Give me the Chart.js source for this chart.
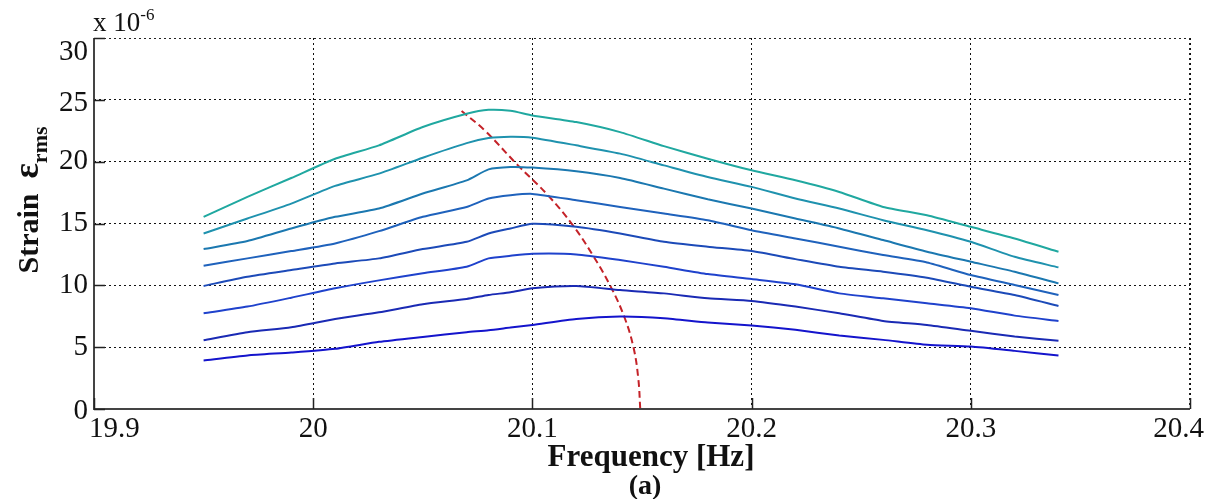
<!DOCTYPE html>
<html>
<head>
<meta charset="utf-8">
<script src="https://cdn.jsdelivr.net/npm/chart.js@4/dist/chart.umd.min.js"></script>
<style>
  html, body { margin: 0; padding: 0; background: #fff; }
  #wrap { width: 1218px; height: 499px; }
</style>
</head>
<body>
<div id="wrap"><canvas id="chartId" width="1218" height="499"></canvas></div>
<script>
// strain vs frequency sweeps, x 10^-6

const freq = [19.95, 19.97, 19.99, 20.01, 20.03, 20.05, 20.07, 20.08, 20.09, 20.10, 20.12,
              20.14, 20.16, 20.18, 20.20, 20.22, 20.24, 20.26, 20.28, 20.30, 20.32, 20.34];

const strain1 = [3.92, 4.33, 4.57, 4.87, 5.43, 5.83, 6.21, 6.37, 6.59, 6.80, 7.28, 7.47, 7.34, 6.99, 6.75, 6.40, 5.94, 5.59, 5.19, 5.05, 4.70, 4.33];
const strain2 = [5.56, 6.21, 6.61, 7.28, 7.82, 8.47, 8.90, 9.22, 9.44, 9.76, 9.95, 9.62, 9.35, 8.95, 8.74, 8.28, 7.74, 7.12, 6.80, 6.32, 5.86, 5.51];
const strain3 = [7.74, 8.28, 9.00, 9.76, 10.40, 10.97, 11.50, 12.18, 12.39, 12.55, 12.50, 12.04, 11.50, 10.91, 10.51, 10.08, 9.35, 8.95, 8.55, 8.15, 7.55, 7.12];
const strain4 = [9.95, 10.70, 11.24, 11.77, 12.18, 12.93, 13.52, 14.19, 14.60, 14.97, 14.73, 14.19, 13.52, 13.12, 12.77, 12.12, 11.50, 11.10, 10.62, 9.89, 9.22, 8.33];
const strain5 = [11.59, 12.18, 12.77, 13.39, 14.38, 15.54, 16.34, 17.02, 17.28, 17.39, 16.88, 16.34, 15.81, 15.27, 14.46, 13.79, 13.12, 12.45, 11.85, 10.83, 10.03, 9.22];
const strain6 = [12.93, 13.58, 14.60, 15.54, 16.21, 17.42, 18.49, 19.38, 19.57, 19.52, 19.22, 18.68, 17.82, 16.96, 16.21, 15.40, 14.60, 13.66, 12.72, 11.91, 11.10, 10.16];
const strain7 = [14.19, 15.40, 16.61, 18.04, 19.03, 20.32, 21.50, 21.91, 22.02, 21.94, 21.32, 20.65, 19.70, 18.76, 17.96, 17.02, 16.21, 15.27, 14.46, 13.52, 12.31, 11.45];
const strain8 = [15.54, 17.15, 18.68, 20.24, 21.32, 22.80, 23.87, 24.19, 24.11, 23.74, 23.20, 22.39, 21.26, 20.24, 19.30, 18.49, 17.55, 16.34, 15.67, 14.73, 13.79, 12.71];

// backbone curve (red dashed)
const backboneFreq = [20.0677, 20.0781, 20.0933, 20.107, 20.1184, 20.1275, 20.1355, 20.1419, 20.1461, 20.1483, 20.1492];
const backboneStrain = [24.1, 22.55, 19.72, 17.3, 14.87, 12.45, 9.97, 7.46, 4.99, 2.48, 0];

const xTicks = [19.9, 20, 20.1, 20.2, 20.3, 20.4];
const yTicks = [0, 5, 10, 15, 20, 25, 30];

const allStrain = [strain1, strain2, strain3, strain4, strain5, strain6, strain7, strain8];
const lineColors = ['#1414cc', '#1a2ab4', '#1f42cc', '#1c4ab8', '#1f62bc', '#1b78b0', '#1f92ae', '#20a8a0'];

const toPoints = (xs, ys) => xs.map((x, i) => ({ x: x, y: ys[i] }));

const datasets = allStrain.map((s, i) => ({
  data: toPoints(freq, s),
  borderColor: lineColors[i],
  borderWidth: 2,
  pointRadius: 0,
  tension: 0.2,
  fill: false
}));

datasets.push({
  data: toPoints(backboneFreq, backboneStrain),
  borderColor: '#c42228',
  borderWidth: 2,
  borderDash: [7, 4],
  pointRadius: 0,
  tension: 0.4,
  fill: false
});

const SERIF = '"Liberation Serif", "DejaVu Serif", serif';

// axes, tick labels and titles drawn in matlab style
const axesPlugin = {
  id: 'axesPlugin',
  afterDraw(chart) {
    const ctx = chart.ctx;
    const xs = chart.scales.x, ys = chart.scales.y;
    const a = chart.chartArea;
    ctx.save();

    // top / right dotted border
    ctx.strokeStyle = '#222';
    ctx.lineWidth = 1;
    ctx.setLineDash([2, 3]);
    ctx.beginPath();
    ctx.moveTo(a.left, a.top + 0.5); ctx.lineTo(a.right, a.top + 0.5);
    ctx.moveTo(a.right - 0.5, a.top); ctx.lineTo(a.right - 0.5, a.bottom);
    ctx.stroke();

    // solid left / bottom axes
    ctx.setLineDash([]);
    ctx.strokeStyle = '#444';
    ctx.lineWidth = 2;
    ctx.beginPath();
    ctx.moveTo(a.left, a.top); ctx.lineTo(a.left, a.bottom);
    ctx.lineTo(a.right, a.bottom);
    ctx.stroke();

    // inward ticks
    ctx.lineWidth = 1.5;
    ctx.strokeStyle = '#222';
    ctx.beginPath();
    xTicks.forEach(t => {
      const px = Math.round(xs.getPixelForValue(t)) + 0.5;
      ctx.moveTo(px, a.bottom); ctx.lineTo(px, a.bottom - 11);
    });
    yTicks.forEach(t => {
      const py = Math.round(ys.getPixelForValue(t)) + 0.5;
      ctx.moveTo(a.left, py); ctx.lineTo(a.left + 11, py);
    });
    ctx.stroke();

    ctx.fillStyle = '#111';
    ctx.font = '29px ' + SERIF;

    // x tick labels
    ctx.textBaseline = 'top';
    xTicks.forEach((t, i) => {
      let px = xs.getPixelForValue(t);
      ctx.textAlign = 'center';
      if (i === 0) { ctx.textAlign = 'left'; px -= 5; }
      if (i === xTicks.length - 1) { ctx.textAlign = 'right'; px += 14; }
      ctx.fillText(String(t), px, a.bottom + 6);
    });

    // y tick labels
    ctx.textAlign = 'right';
    ctx.textBaseline = 'middle';
    yTicks.forEach(t => {
      let py = ys.getPixelForValue(t);
      if (t === 30) py += 14;
      else if (t === 25) py += 4;
      else if (t === 0) py += 2;
      ctx.fillText(String(t), a.left - 6, py);
    });

    // exponent
    ctx.textAlign = 'left';
    ctx.textBaseline = 'alphabetic';
    ctx.font = '27px ' + SERIF;
    ctx.fillText('x 10', a.left - 1, 31);
    const w = ctx.measureText('x 10').width;
    ctx.font = '17px ' + SERIF;
    ctx.fillText('-6', a.left - 1 + w, 20);

    // x title
    ctx.textAlign = 'center';
    ctx.font = 'bold 31px ' + SERIF;
    ctx.fillText('Frequency [Hz]', 651, 466);
    ctx.font = 'bold 28px ' + SERIF;
    ctx.fillText('(a)', 645, 494);

    // y title
    ctx.translate(38, 200);
    ctx.rotate(-Math.PI / 2);
    ctx.textAlign = 'left';
    const t1 = 'Strain  ';
    const t2 = '\u03B5';
    const t3 = 'rms';
    ctx.font = 'bold 30px ' + SERIF;
    const w1 = ctx.measureText(t1).width;
    ctx.font = 'bold 36px ' + SERIF;
    const w2 = ctx.measureText(t2).width;
    ctx.font = 'bold 22px ' + SERIF;
    const w3 = ctx.measureText(t3).width;
    const x0 = -(w1 + w2 + w3) / 2;
    ctx.font = 'bold 30px ' + SERIF;
    ctx.fillText(t1, x0, 0);
    ctx.font = 'bold 36px ' + SERIF;
    ctx.fillText(t2, x0 + w1, 0);
    ctx.font = 'bold 22px ' + SERIF;
    ctx.fillText(t3, x0 + w1 + w2, 9);

    ctx.restore();
  }
};

const chrt = document.getElementById('chartId').getContext('2d');
const chart = new Chart(chrt, {
  type: 'line',
  data: { datasets: datasets },
  options: {
    responsive: false,
    animation: false,
    events: [],
    layout: { padding: { left: 94, right: 28, top: 38, bottom: 90 } },
    plugins: { legend: { display: false }, tooltip: { enabled: false } },
    scales: {
      x: {
        type: 'linear',
        min: 19.9,
        max: 20.4,
        afterBuildTicks: scale => { scale.ticks = xTicks.map(v => ({ value: v })); },
        ticks: { display: false },
        grid: { color: '#111', lineWidth: 1, drawTicks: false },
        border: { display: false, dash: [2, 3] }
      },
      y: {
        type: 'linear',
        min: 0,
        max: 30,
        afterBuildTicks: scale => { scale.ticks = yTicks.map(v => ({ value: v })); },
        ticks: { display: false },
        grid: { color: '#111', lineWidth: 1, drawTicks: false },
        border: { display: false, dash: [2, 3] }
      }
    }
  },
  plugins: [axesPlugin]
});
</script>
</body>
</html>
